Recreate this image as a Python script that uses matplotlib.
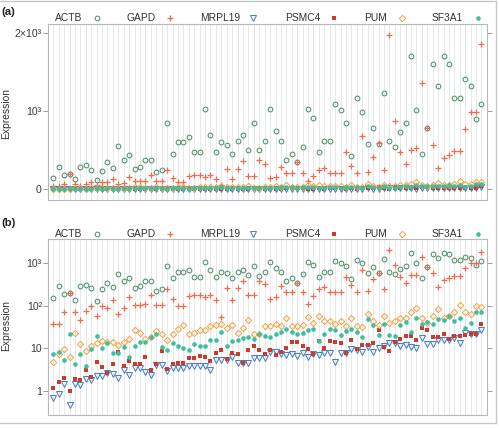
import matplotlib
matplotlib.use("Agg")
import matplotlib.pyplot as plt
from matplotlib.lines import Line2D
from matplotlib.ticker import NullLocator
import numpy as np

plt.rcParams['font.family'] = ['Liberation Sans', 'DejaVu Sans']

# ---------------- data ----------------
genes = ["ACTB", "GAPD", "MRPL19", "PSMC4", "PUM", "SF3A1"]

actb = [150, 290, 187, 195, 135, 287, 305, 253, 125, 240, 345, 273, 550,
        375, 445, 260, 290, 375, 375, 224, 250, 850, 450, 612, 612, 670,
        480, 480, 1030, 700, 480, 605, 570, 450, 620, 700, 510, 855,
        500, 620, 1035, 750, 615, 370, 450, 345, 545, 1035, 910, 475, 620,
        620, 1090, 1020, 845, 425, 1165, 985, 575, 790, 580, 1240, 620, 545,
        740, 845, 1715, 1020, 450, 790, 1605, 1320, 1715, 1605, 1165, 1165, 1410, 1320, 905, 1090]

gapd = [37, 37, 69, 195, 72, 45, 73, 99, 58, 97, 89, 132, 62,
        86, 162, 105, 103, 108, 177, 101, 101, 245, 140, 96, 99, 170,
        177, 177, 162, 177, 137, 55, 254, 137, 262, 368, 174, 174,
        377, 325, 142, 162, 288, 204, 204, 345, 212, 107, 170, 250, 268,
        212, 204, 212, 478, 303, 204, 685, 224, 413, 595, 245, 1980, 880,
        480, 330, 510, 530, 1367, 790, 570, 268, 400, 436, 488, 488, 778, 995, 995, 1860]

mrpl19 = [0.67, 0.83, 1.43, 0.47, 1.43, 1.36, 1.85, 1.75, 2.2, 2.2, 2.55, 2.45, 1.98,
          3.1, 2.4, 3.5, 3.5, 2.8, 2.4, 4.0, 4.0, 2.9, 3.35, 3.35, 3.5, 3.9,
          3.8, 3.8, 3.9, 3.05, 5.4, 5.15, 5.4, 6.3, 4.5, 4.5, 4.5, 5.85,
          6.0, 5.75, 8.1, 8.2, 7.4, 6.9, 7.3, 6.5, 7.9, 6.2, 7.4, 7.0, 7.5,
          7.9, 4.8, 7.8, 7.5, 9.5, 9.0, 8.2, 10.8, 8.2, 9.9, 11, 12.9, 12.9,
          11, 11.8, 10.8, 9.9, 17, 12.7, 12.7, 15.2, 15.2, 15.2, 16.9, 12.9, 22.3, 21, 21, 26.6]

psmc4 = [1.18, 1.57, 2.0, 0.98, 1.85, 1.75, 3.0, 2.1, 4.7, 3.6, 2.65, 4.2, 8.2,
         3.8, 5.0, 4.2, 4.2, 6.1, 3.1, 4.2, 8.6, 3.2, 4.2, 4.4, 4.55, 5.75,
         5.95, 6.5, 6.1, 4.9, 7.5, 9.0, 5.5, 7.9, 7.1, 4.4, 8.9, 11.4,
         9.0, 7.3, 9.0, 6.9, 8.2, 10.2, 13.6, 13.6, 11.4, 9.5, 7.4, 14.7, 9.9,
         14.7, 13.6, 13.2, 7.9, 15.2, 9.7, 12.1, 12.1, 13.4, 26.6, 10.8, 8.5, 14,
         16.1, 19.2, 19, 15.5, 29.6, 26.1, 17.9, 17.9, 21, 16.4, 19.2, 19.6, 20.3, 21.4, 21, 36]

pum = [4.8, 7.4, 9.7, 6.1, 22.6, 12.3, 8.7, 11, 12.9, 14.6, 13.7, 13.7, 12,
       14.2, 16, 26.6, 23, 16.6, 18.6, 25.7, 21, 15.2, 21.8, 28, 34.5, 21.5,
       22.2, 26, 27, 34, 35, 36, 30, 35, 23, 30, 46.5, 21.5,
       21.5, 33, 33.6, 36, 33.6, 50, 32.5, 33, 35, 53, 40, 56.5, 44,
       43, 36, 43, 33.6, 50, 33.6, 31.8, 64, 43, 34.8, 57.6, 40, 43,
       50, 50, 69, 89, 50, 40, 58, 83, 50, 58, 72, 103, 72, 62, 96, 91]

sf3a1 = [7.1, 8.2, 5.15, 21, 4.3, 7.1, 3.9, 9.5, 19.6, 10, 13.4, 7.8, 7.5,
         10.6, 6.2, 11.4, 13.7, 13.7, 18.6, 21, 10.6, 8.9, 13.1, 11.4, 10.2, 8.9,
         12.3, 11.4, 11.4, 15.2, 15.2, 23.5, 11.4, 14.7, 15.2, 17.3, 18.6, 16.1,
         21.5, 19.2, 18.6, 21.8, 24, 27.6, 24.3, 21.8, 23, 26, 28.6, 15, 21.5,
         28, 26.6, 20, 24.7, 28, 24, 17.9, 48, 34.8, 20.3, 36, 20.3, 19.2,
         35, 42, 23.5, 50, 36, 42, 36, 48, 46, 58, 43, 52, 29, 38, 69, 69]

series = [actb, gapd, mrpl19, psmc4, pum, sf3a1]
samples = np.arange(1, len(actb) + 1)

lin_ticks = [0, 1000, 2000]
lin_labels = ["0", "10³", "2×10³"]
log_ticks = [1, 10, 100, 1000]
log_labels = ["1", "10", "10²", "10³"]

# ---------------- styles ----------------
styles = [
    dict(marker='o', ms=3.4, mfc='none', mec='#52906a', mew=0.75),
    dict(marker='+', ms=5.0, mfc='none', mec='#f26b4f', mew=0.9),
    dict(marker='v', ms=3.7, mfc='none', mec='#4a7fc0', mew=0.75),
    dict(marker='s', ms=2.7, mfc='#cc3a2a', mec='#cc3a2a', mew=0),
    dict(marker='D', ms=3.2, mfc='none', mec='#f5a54a', mew=0.75),
    dict(marker='o', ms=3.3, mfc='#3cbf9f', mec='#3cbf9f', mew=0),
]

W, H = 499, 428
fig = plt.figure(figsize=(W / 100, H / 100), dpi=100)


def fx(x):
    return x / W


def fy(y):
    return 1 - y / H


def make_ax(top_px, bottom_px):
    l, r = 48.3, 486.7
    ax = fig.add_axes([fx(l), fy(bottom_px), fx(r) - fx(l), (bottom_px - top_px) / H])
    ax.set_xlim(0.08, 80.96)
    ax.set_xticks(samples)
    ax.tick_params(axis='x', length=0, labelbottom=False)
    ax.grid(axis='x', color='#e2e5e8', lw=0.6, zorder=0)
    ax.set_axisbelow(True)
    for s in ax.spines.values():
        s.set_color('#b8b8b8')
        s.set_linewidth(0.8)
    ax.tick_params(axis='y', which='major', direction='out', length=3.5, width=0.6,
                   color='#8a8a8a', labelsize=7.6, labelcolor='#3a3a3a', pad=1.2,
                   right=True, labelright=False)
    ax.set_ylabel("Expression", fontsize=7.4, color='#333333')
    return ax


def draw_points(ax):
    for vals, st in zip(series, styles):
        ax.plot(samples, vals, ls='none', zorder=3, **st)


def draw_legend(yc):
    label_x = [55, 126.7, 200, 285, 364, 431.7]
    marker_x = [96.7, 170, 253, 334, 401.7, 477.7]
    for g, lx, mx, st in zip(genes, label_x, marker_x, styles):
        fig.text(fx(lx), fy(yc), g, fontsize=7.4, color='#333333', ha='left', va='center')
        fig.add_artist(Line2D([fx(mx)], [fy(yc)], transform=fig.transFigure, ls='none', **st))


# Panel (a): linear
ax1 = make_ax(24, 199.5)
draw_points(ax1)
ax1.set_ylim(-131, 2119)
ax1.set_yticks(lin_ticks)
ax1.set_yticklabels(lin_labels)
ax1.yaxis.set_label_coords(-0.084, 0.49)

# Panel (b): log
ax2 = make_ax(239, 415)
draw_points(ax2)
ax2.set_yscale('log')
ax2.set_ylim(0.269, 3660)
ax2.set_yticks(log_ticks)
ax2.set_yticklabels(log_labels)
ax2.yaxis.set_minor_locator(NullLocator())
ax2.yaxis.set_label_coords(-0.084, 0.51)

draw_legend(18.3)
draw_legend(234)

fig.text(fx(1.5), fy(12.3), "(a)", fontsize=8.2, fontweight='bold', color='#222222', ha='left', va='center')
fig.text(fx(1.5), fy(223), "(b)", fontsize=8.2, fontweight='bold', color='#222222', ha='left', va='center')

# outer border
bc = '#c8c8c8'
fig.add_artist(Line2D([0, fx(495.7)], [fy(0.7), fy(0.7)], transform=fig.transFigure, color=bc, lw=1))
fig.add_artist(Line2D([fx(495.7), fx(495.7)], [fy(0.7), fy(422.7)], transform=fig.transFigure, color=bc, lw=1))
fig.add_artist(Line2D([0, fx(495.7)], [fy(422.7), fy(422.7)], transform=fig.transFigure, color=bc, lw=1))

fig.savefig("out.png", dpi=100)
